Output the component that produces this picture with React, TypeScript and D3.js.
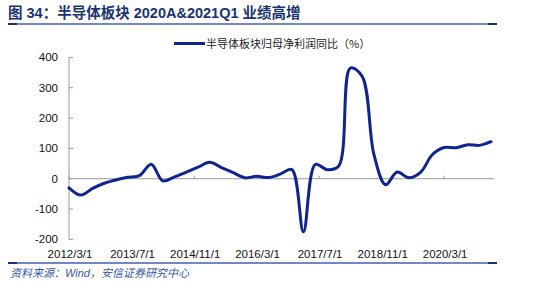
import React from "react";
import * as d3 from "d3";

// ---- data ----
const startMonth = "2012-03-01";
const seriesName = "半导体板块归母净利润同比（%）";
const values = [
  -30, -54, -32, -15, -4, 5, 10, 48, -7, 6, 22, 38, 54, 37, 20, 3, 8, 4, 15, 30,
  -175, 47, 30, 42, 365, 338, 80, -20, 22, 3, 22, 80, 103, 102, 112, 110, 122,
];
const xTickLabels = ["2012/3/1", "2013/7/1", "2014/11/1", "2016/3/1", "2017/7/1", "2018/11/1", "2020/3/1"];
const yTicks = [-200, -100, 0, 100, 200, 300, 400];
const title = "图 34：半导体板块 2020A&2021Q1 业绩高增";
const source = "资料来源：Wind，安信证券研究中心";

const W = 550;
const H = 286;
const FONT = "'Liberation Sans', Arial, 'Noto Sans CJK SC', sans-serif";

export default function App() {
  const parse = d3.timeParse("%Y-%m-%d");
  const parseTick = d3.timeParse("%Y/%m/%d");
  const start = parse(startMonth) as Date;
  const dates = values.map((_, i) => d3.timeMonth.offset(start, 3 * i));

  const x = d3
    .scaleTime()
    .domain([start, d3.timeMonth.offset(start, 108)])
    .range([69, 491]);
  const y = d3.scaleLinear().domain([-200, 400]).range([239.4, 57.4]);

  const line = d3
    .line<number>()
    .x((_, i) => x(dates[i]))
    .y((d) => y(d))
    .curve(d3.curveCatmullRom.alpha(0.5));

  const axisX = 69;
  const axisRight = 494;

  return (
    <svg
      width={W}
      height={H}
      style={{ display: "block", background: "#fff", position: "absolute", left: 0, top: 0 }}
      fontFamily={FONT}
    >
      {/* title */}
      <text x={8} y={18} fontSize={14.5} fontWeight="bold" fill="#1B3470">
        {title}
      </text>
      <rect x={8} y={23} width={489} height={2} fill="#7486C4" />
      <rect x={8} y={23} width={9} height={2} fill="#1B3470" />
      <rect x={488} y={23} width={9} height={2} fill="#1B3470" />

      {/* legend */}
      <line x1={174} x2={205} y1={43.5} y2={43.5} stroke="#0F2491" strokeWidth={3} />
      <text x={206} y={47.5} fontSize={11} fill="#222" fontFamily="'Noto Sans CJK SC', sans-serif">
        {seriesName}
      </text>

      {/* y axis */}
      <line x1={axisX} x2={axisX} y1={y(400)} y2={y(-200)} stroke="#999" strokeWidth={1} />
      {yTicks.map((t) => (
        <g key={t}>
          <line x1={axisX} x2={axisX + 4} y1={y(t)} y2={y(t)} stroke="#999" strokeWidth={1} />
          <text x={58} y={y(t) + 4} fontSize={11.5} textAnchor="end" fill="#111">
            {t}
          </text>
        </g>
      ))}

      {/* zero line */}
      <line x1={axisX} x2={axisRight} y1={y(0)} y2={y(0)} stroke="#999" strokeWidth={1} />
      {xTickLabels.map((lab) => {
        const xx = x(parseTick(lab) as Date);
        return (
          <g key={lab}>
            <line x1={xx} x2={xx} y1={y(0)} y2={y(0) - 3} stroke="#999" strokeWidth={1} />
            <text x={xx + 1} y={258} fontSize={11.5} textAnchor="middle" fill="#111">
              {lab}
            </text>
          </g>
        );
      })}

      {/* series */}
      <path
        d={line(values) || ""}
        fill="none"
        stroke="#0F2491"
        strokeWidth={3}
        strokeLinejoin="round"
        strokeLinecap="round"
      />

      {/* footer */}
      <rect x={8} y={262} width={489} height={2} fill="#7486C4" />
      <rect x={8} y={262} width={9} height={2} fill="#1B3470" />
      <rect x={488} y={262} width={9} height={2} fill="#1B3470" />
      <text x={10} y={277} fontSize={11} fontStyle="italic" fill="#3558A6">
        {source}
      </text>
    </svg>
  );
}
